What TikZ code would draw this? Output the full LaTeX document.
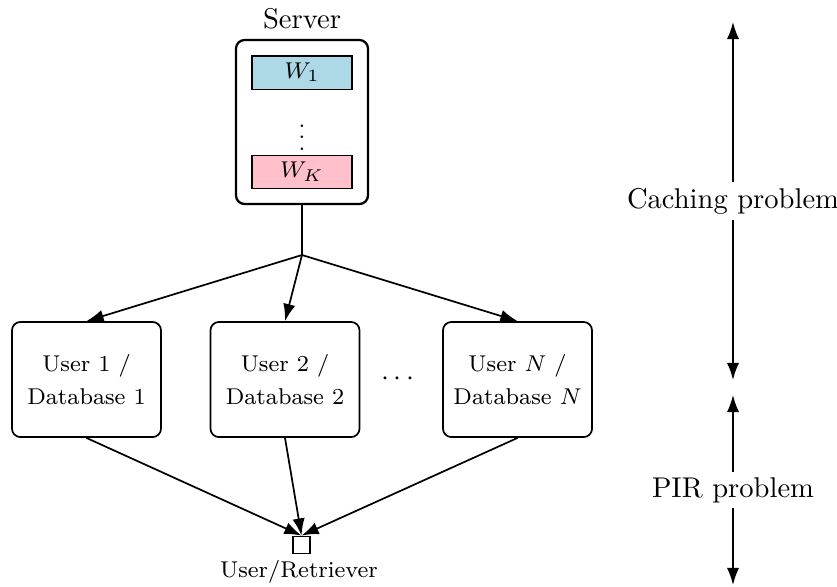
\documentclass[tikz,border=0pt]{standalone}
\usetikzlibrary{arrows.meta}
\definecolor{fileblue}{RGB}{173,216,230}
\definecolor{filepink}{RGB}{255,192,203}
\begin{document}
\begin{tikzpicture}[x=0.35pt,y=-0.35pt,
  conn/.style={semithick,-{Latex[length=6pt,width=4.3pt]}},
  dbl/.style={semithick,{Latex[length=6pt,width=4.3pt]}-{Latex[length=6pt,width=4.3pt]}},
  srvbox/.style={draw,thick,rounded corners=3pt,minimum width=46.2pt,minimum height=57.4pt,inner sep=0pt},
  filebox/.style={draw,thin,minimum width=35pt,minimum height=11.6pt,inner sep=0pt,font=\footnotesize},
  userbox/.style={draw,semithick,rounded corners=3pt,minimum width=52.2pt,minimum height=40.3pt,align=center,font=\fontsize{8}{11.5}\selectfont,inner sep=0pt},
  retr/.style={draw,semithick,minimum size=6pt,inner sep=0pt},
  lbl/.style={font=\footnotesize},
  mid/.style={fill=white,inner sep=2pt}
]
\useasboundingbox (0,0) rectangle (837,586);

% server
\node[srvbox] (srv) at (302,122) {};
\node[anchor=base] (srvlabel) at (302,28) {Server};
\node[filebox,fill=fileblue] (w1) at (302,72.5) {$W_1$};
\node[inner sep=0pt,font=\footnotesize] (vd) at (302,129) {$\vdots$};
\node[filebox,fill=filepink] (wk) at (302,172) {$W_K$};

% branch
\coordinate (br) at (302,255);
\draw[semithick] (srv.south) -- (br);

% users
\node[userbox] (u1) at (86.5,379.5) {User 1 /\\Database 1};
\node[userbox] (u2) at (285,379.5) {User 2 /\\Database 2};
\node[userbox] (un) at (517.5,379.5) {User $N$ /\\Database $N$};
\node (dots) at (398,379) {$\cdots$};

\draw[conn] (br) -- (u1.north);
\draw[conn] (br) -- (u2.north);
\draw[conn] (br) -- (un.north);

% retriever
\node[retr] (r) at (301.5,545) {};
\node[lbl,anchor=base] (rlabel) at (299,577) {User/Retriever};
\draw[conn] (u1.south) -- (r.north);
\draw[conn] (u2.south) -- (r.north);
\draw[conn] (un.south) -- (r.north);

% right side
\coordinate (ctop) at (733,22);
\coordinate (cbot) at (733,380);
\coordinate (ptop) at (733,395);
\coordinate (pbot) at (733,585);
\draw[dbl] (ctop) -- node[mid] (cap) {Caching problem} (cbot);
\draw[dbl] (ptop) -- node[mid] (pir) {PIR problem} (pbot);
\end{tikzpicture}
\end{document}
